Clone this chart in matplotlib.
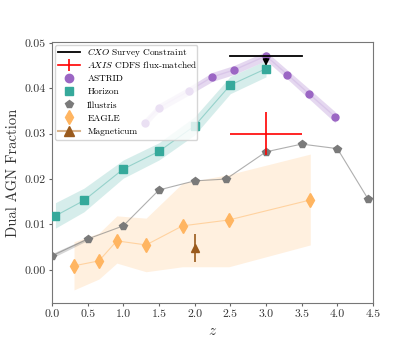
import matplotlib
matplotlib.use("Agg")
import matplotlib.pyplot as plt
from matplotlib.lines import Line2D
import numpy as np

plt.rcParams['font.family'] = 'serif'
plt.rcParams['font.serif'] = ['cmr10', 'DejaVu Serif']
plt.rcParams['mathtext.fontset'] = 'cm'
plt.rcParams['axes.formatter.use_mathtext'] = True

# ASTRID
astrid_z = [1.3, 1.5, 1.92, 2.25, 2.55, 3.0, 3.3, 3.6, 3.97]
astrid_f = [0.0324, 0.0357, 0.0394, 0.0425, 0.0440, 0.0471, 0.0430, 0.0388, 0.0337]
astrid_lo = [0.0315, 0.0348, 0.0385, 0.0415, 0.0430, 0.0461, 0.0420, 0.0377, 0.0324]
astrid_hi = [0.0333, 0.0366, 0.0403, 0.0435, 0.0450, 0.0481, 0.0440, 0.0399, 0.0348]

# Horizon
horizon_z = [0.05, 0.45, 1.0, 1.5, 2.0, 2.5, 3.0]
horizon_f = [0.0119, 0.0153, 0.0222, 0.0261, 0.0317, 0.0407, 0.0443]
horizon_lo = [0.0092, 0.0128, 0.0202, 0.0242, 0.0297, 0.0388, 0.0425]
horizon_hi = [0.0148, 0.0180, 0.0242, 0.0280, 0.0337, 0.0426, 0.0461]

# Illustris
illustris_z = [0.0, 0.5, 1.0, 1.5, 2.0, 2.44, 3.0, 3.5, 4.0, 4.43]
illustris_f = [0.0031, 0.0068, 0.0097, 0.0176, 0.0196, 0.0200, 0.0260, 0.0277, 0.0267, 0.0156]
illustris_band_z = [0.0, 0.5]
illustris_band_lo = [0.0026, 0.0065]
illustris_band_hi = [0.0036, 0.0071]

# EAGLE
eagle_z = [0.31, 0.66, 0.91, 1.32, 1.83, 2.48, 3.62]
eagle_f = [0.0009, 0.0020, 0.0064, 0.0055, 0.0097, 0.0110, 0.0154]
eagle_lo = [-0.0044, -0.0020, 0.0015, -0.0004, 0.0007, 0.0007, 0.0055]
eagle_hi = [0.0062, 0.0081, 0.0119, 0.0114, 0.0191, 0.0210, 0.0255]

# Magneticum
mag_z = [2.0]
mag_f = [0.0048]
mag_err_lo = [0.0031]
mag_err_hi = [0.0031]

# CXO upper limit
cxo_z = [3.0]
cxo_f = [0.0471]
cxo_zerr = [0.5]
cxo_arrow = [0.0028]

# AXIS
axis_z = [3.0]
axis_f = [0.0300]
axis_zerr = [0.5]
axis_ferr = [0.0048]

c_astrid = '#9b66c4'
c_horizon = '#36a99b'
c_illustris = '#7a7a7a'
c_eagle = '#ffb561'
c_mag = '#9a5a1c'

fig = plt.figure(figsize=(4.15, 3.46), dpi=100)
ax = fig.add_axes([0.125, 0.124, 0.774, 0.755])

# ASTRID
ax.fill_between(astrid_z, astrid_lo, astrid_hi, color=c_astrid, alpha=0.25, lw=0, zorder=3)
ax.plot(astrid_z, astrid_f, color=c_astrid, alpha=0.15, lw=1, zorder=3)
ax.plot(astrid_z, astrid_f, 'o', color=c_astrid, ms=5, lw=0, zorder=4)

# Horizon
ax.fill_between(horizon_z, horizon_lo, horizon_hi, color=c_horizon, alpha=0.2, lw=0, zorder=2)
ax.plot(horizon_z, horizon_f, '-', color=c_horizon, alpha=0.4, lw=0.8, zorder=2)
ax.plot(horizon_z, horizon_f, 's', color=c_horizon, ms=5.5, lw=0, zorder=4)

# Illustris
ax.fill_between(illustris_band_z, illustris_band_lo, illustris_band_hi, color=c_illustris, alpha=0.3, lw=0, zorder=2)
ax.plot(illustris_z, illustris_f, '-', color=c_illustris, alpha=0.6, lw=0.8, zorder=2)
ax.plot(illustris_z, illustris_f, 'p', color=c_illustris, ms=5.5, lw=0, zorder=4)

# EAGLE
ax.fill_between(eagle_z, eagle_lo, eagle_hi, color=c_eagle, alpha=0.2, lw=0, zorder=1)
ax.plot(eagle_z, eagle_f, '-', color=c_eagle, alpha=0.5, lw=0.8, zorder=2)
ax.plot(eagle_z, eagle_f, 'd', color=c_eagle, ms=7, lw=0, zorder=4)

# Magneticum
ax.errorbar(mag_z, mag_f, yerr=[mag_err_lo, mag_err_hi], fmt='^', color=c_mag, ms=6,
            elinewidth=1.2, ecolor=c_mag, zorder=5)

# AXIS
ax.errorbar(axis_z, axis_f, xerr=axis_zerr, yerr=axis_ferr, fmt='none', ecolor='red',
            elinewidth=1.2, zorder=5)

# CXO
ax.plot([cxo_z[0] - cxo_zerr[0], cxo_z[0] + cxo_zerr[0]], [cxo_f[0], cxo_f[0]], color='k',
        lw=1.3, zorder=6)
ax.annotate('', xy=(cxo_z[0], cxo_f[0] - cxo_arrow[0]), xytext=(cxo_z[0], cxo_f[0]),
            arrowprops=dict(arrowstyle='-|>', color='k', lw=1.2, mutation_scale=9), zorder=6)

ax.set_xlim(0, 4.5)
ax.set_ylim(-0.0073, 0.0502)
ax.set_xticks(np.arange(0, 4.51, 0.5))
ax.set_yticks([0.0, 0.01, 0.02, 0.03, 0.04, 0.05])
ax.set_yticklabels(['0.00', '0.01', '0.02', '0.03', '0.04', '0.05'])
ax.set_xticklabels(['0.0', '0.5', '1.0', '1.5', '2.0', '2.5', '3.0', '3.5', '4.0', '4.5'])
ax.tick_params(direction='out', labelsize=8.5, colors='#666666', labelcolor='#333333', length=2.5, pad=2)
for s in ax.spines.values():
    s.set_color('#777777')
ax.set_xlabel('$z$', fontsize=11, color='#333333')
ax.set_ylabel('Dual AGN Fraction', fontsize=10.5, color='#333333', labelpad=3)

handles = [
    Line2D([], [], color='k', lw=1.3),
    Line2D([], [], color='red', lw=1.2, marker='|', ms=8, mew=1.2),
    Line2D([], [], marker='o', color=c_astrid, lw=0, ms=6),
    Line2D([], [], marker='s', color=c_horizon, lw=0, ms=6),
    Line2D([], [], marker='p', color=c_illustris, lw=0, ms=6),
    Line2D([], [], marker='d', color=c_eagle, lw=0, ms=7),
    Line2D([], [], marker='^', color='#d9b48c', mfc=c_mag, mec=c_mag, lw=1.5, ms=7),
]
labels = ['CXO Survey Constraint', 'AXIS CDFS flux-matched', 'ASTRID', 'Horizon',
          'Illustris', 'EAGLE', 'Magneticum']
math_labels = {0: r'$\mathit{CXO}$ Survey Constraint', 1: r'$\mathit{AXIS}$ CDFS flux-matched'}
leg = ax.legend(handles, labels, loc='upper left', fontsize=6.7,
                frameon=True, borderpad=0.4, labelspacing=0.5, handlelength=2.3,
                handletextpad=0.8, borderaxespad=0.3, framealpha=0.8)
leg.get_frame().set_edgecolor('#cccccc')
leg.set_zorder(10)

fig.canvas.draw()
texts = leg.get_texts()
for i, s in math_labels.items():
    t = texts[i]
    px, py = t.get_transform().transform(t.get_position())
    fx, fy = fig.transFigure.inverted().transform((px, py))
    t.set_visible(False)
    fig.text(fx, fy, s, fontsize=6.7, ha='left', va='baseline', color='black', zorder=20)

fig.savefig('out.png', dpi=100)
